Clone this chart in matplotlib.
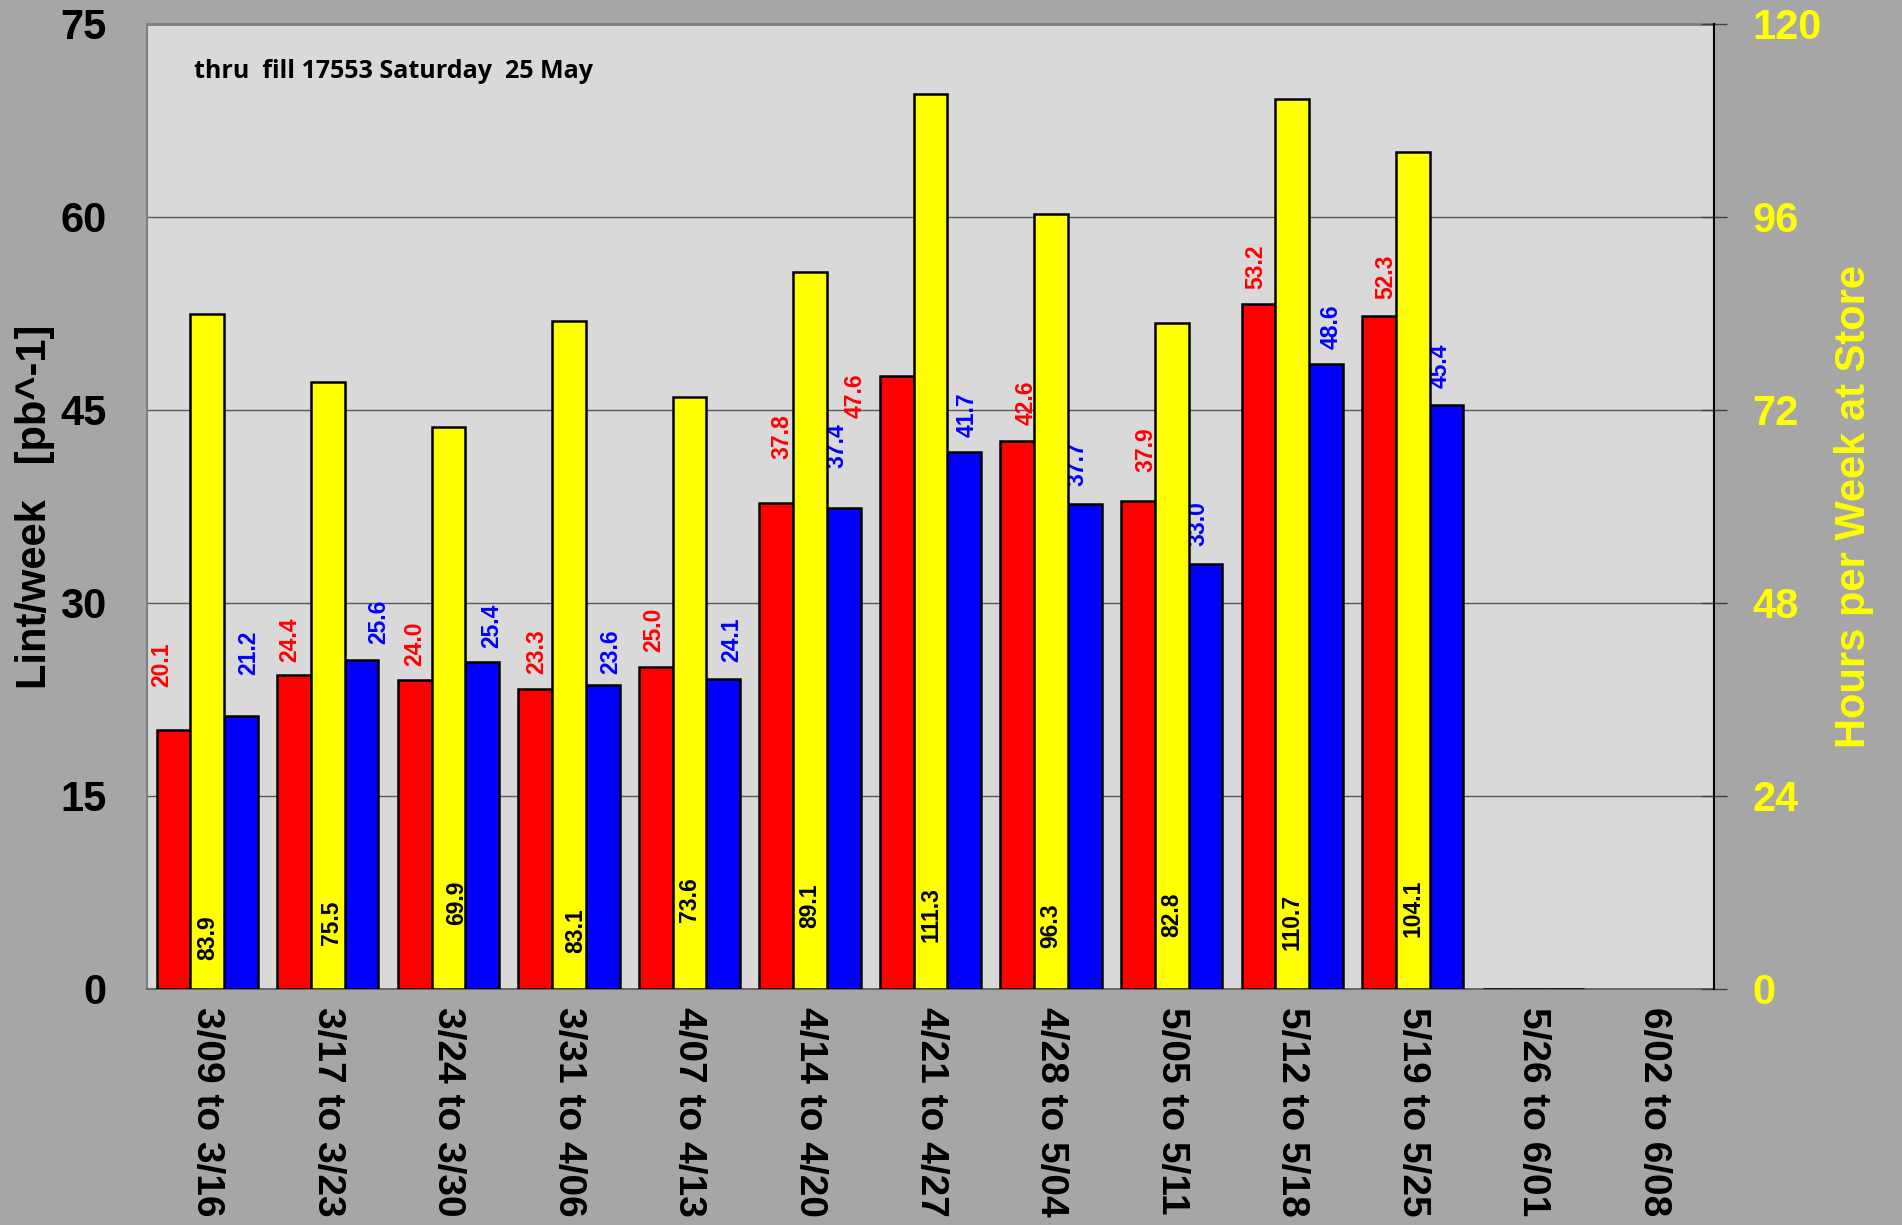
"""Weekly integrated luminosity and hours at store, replicating the run-report bar chart."""

import matplotlib

matplotlib.use("Agg")

import matplotlib.pyplot as plt  # noqa: E402
import numpy as np  # noqa: E402

# -- Data ---------------------------------------------------------------------
weeks = [
    "3/09 to 3/16", "3/17 to 3/23", "3/24 to 3/30", "3/31 to 4/06",
    "4/07 to 4/13", "4/14 to 4/20", "4/21 to 4/27", "4/28 to 5/04",
    "5/05 to 5/11", "5/12 to 5/18", "5/19 to 5/25", "5/26 to 6/01",
    "6/02 to 6/08",
]
lint_red = [20.1, 24.4, 24.0, 23.3, 25.0, 37.8, 47.6, 42.6, 37.9, 53.2, 52.3, 0.0, np.nan]
lint_blue = [21.2, 25.6, 25.4, 23.6, 24.1, 37.4, 41.7, 37.7, 33.0, 48.6, 45.4, 0.0, np.nan]
hours_store = [83.9, 75.5, 69.9, 83.1, 73.6, 89.1, 111.3, 96.3, 82.8, 110.7, 104.1, 0.0, np.nan]

left_ticks = [0, 15, 30, 45, 60, 75]
right_ticks = [0, 24, 48, 72, 96, 120]
note = "thru  fill 17553 Saturday  25 May"

# -- Label placement (offsets from each bar, as hand-placed in the original) --
red_dx = [-0.10, -0.04, 0.0, 0.01, -0.02, 0.05, -0.345, 0.07, 0.07, -0.025, 0.06]
red_dy = [3.4, 1.0, 1.1, 1.2, 1.2, 3.4, -3.2, 1.2, 2.3, 1.2, 1.35]
blue_dx = [0.065, 0.14, 0.08, 0.07, 0.07, -0.056, 0.02, -0.064, -0.058, 0.04, -0.056]
blue_dy = [3.2, 1.2, 1.1, 0.9, 1.3, 3.1, 1.2, 1.4, 1.4, 1.1, 1.3]
yellow_dx = [0.0, 0.03, 0.07, 0.06, 0.0, 0.0, 0.0, 0.0, 0.0, 0.0, 0.0]
yellow_base = [3.6, 5.5, 8.0, 4.5, 8.3, 7.6, 5.8, 5.1, 6.5, 4.9, 6.5]

# -- Style --------------------------------------------------------------------
FIG_BG = "#a6a6a6"
AX_BG = "#d9d9d9"
GRID = "#5a5a5a"
RED = "#ff0000"
YELLOW = "#ffff00"
BLUE = "#0000ff"
FONT = "Liberation Sans"
VAL_SIZE = 16.5

plt.rcParams["font.family"] = [FONT, "DejaVu Sans"]
plt.rcParams["font.weight"] = "bold"

fig = plt.figure(figsize=(19.02, 12.25), dpi=100, facecolor=FIG_BG)
ax = fig.add_axes([0.0773, 0.1927, 0.8239, 0.7878])
ax.set_facecolor(AX_BG)
ax2 = ax.twinx()

x = np.arange(len(weeks))
w = 0.28
bar_kw = dict(width=w, edgecolor="black", linewidth=1.8, zorder=3)

ax.bar(x - w, lint_red, color=RED, **bar_kw)
ax.bar(x + w, lint_blue, color=BLUE, **bar_kw)
ax2.bar(x, hours_store, color=YELLOW, **bar_kw)

# value labels (red/blue on left axis sit underneath the yellow bars)
for i, v in enumerate(lint_red):
    if np.isnan(v) or v == 0:
        continue
    ax.text(i - w + red_dx[i], v + red_dy[i], f"{v:.1f}", color=RED, fontsize=VAL_SIZE,
            fontweight="bold", rotation=90, ha="center", va="bottom", zorder=4)
for i, v in enumerate(lint_blue):
    if np.isnan(v) or v == 0:
        continue
    ax.text(i + w + blue_dx[i], v + blue_dy[i], f"{v:.1f}", color=BLUE, fontsize=VAL_SIZE,
            fontweight="bold", rotation=90, ha="center", va="bottom", zorder=4)
for i, v in enumerate(hours_store):
    if np.isnan(v) or v == 0:
        continue
    ax2.text(i + yellow_dx[i], yellow_base[i], f"{v:.1f}", color="black", fontsize=VAL_SIZE,
             fontweight="bold", rotation=90, ha="center", va="bottom", zorder=5)

# axes ranges and ticks
ax.set_xlim(-0.5, len(weeks) - 0.5)
ax.set_ylim(0, 75)
ax2.set_ylim(0, 120)
ax.set_yticks(left_ticks)
ax2.set_yticks(right_ticks)
ax.set_xticks(x)
ax.set_xticklabels(weeks, rotation=-90, fontsize=28, fontweight="bold")
ax.tick_params(axis="x", length=0, pad=13)
ax.tick_params(axis="y", length=0, pad=29, labelsize=30)
ax2.tick_params(axis="y", direction="inout", length=19, width=1.0, color="#404040",
                pad=18, labelsize=30, labelcolor=YELLOW)
for lab in ax.get_yticklabels() + ax2.get_yticklabels():
    lab.set_fontweight("bold")

ax.grid(axis="y", color=GRID, linewidth=1.0, zorder=0)
ax.set_axisbelow(True)

ax.set_ylabel("Lint/week   [pb^-1]", fontsize=30, fontweight="bold", labelpad=4)
ax2.set_ylabel("Hours per Week at Store", fontsize=30, fontweight="bold",
               color=YELLOW, labelpad=9)

# spines
for a in (ax, ax2):
    for s in a.spines.values():
        s.set_visible(False)
ax.spines["left"].set_visible(True)
ax.spines["left"].set_color("#7f7f7f")
ax.spines["left"].set_linewidth(1.5)
ax.spines["top"].set_visible(True)
ax.spines["top"].set_color("#7f7f7f")
ax.spines["top"].set_linewidth(2.0)
ax.spines["bottom"].set_visible(True)
ax.spines["bottom"].set_color("#5a5a5a")
ax.spines["bottom"].set_linewidth(1.2)
ax2.spines["right"].set_visible(True)
ax2.spines["right"].set_color("black")
ax2.spines["right"].set_linewidth(1.5)

ax.text(0.030, 0.951, note, transform=ax.transAxes, fontsize=18, fontweight="bold",
        family=["Open Sans", "DejaVu Sans"], ha="left", va="center", zorder=6)

fig.savefig("out.png", dpi=100, facecolor=fig.get_facecolor())
